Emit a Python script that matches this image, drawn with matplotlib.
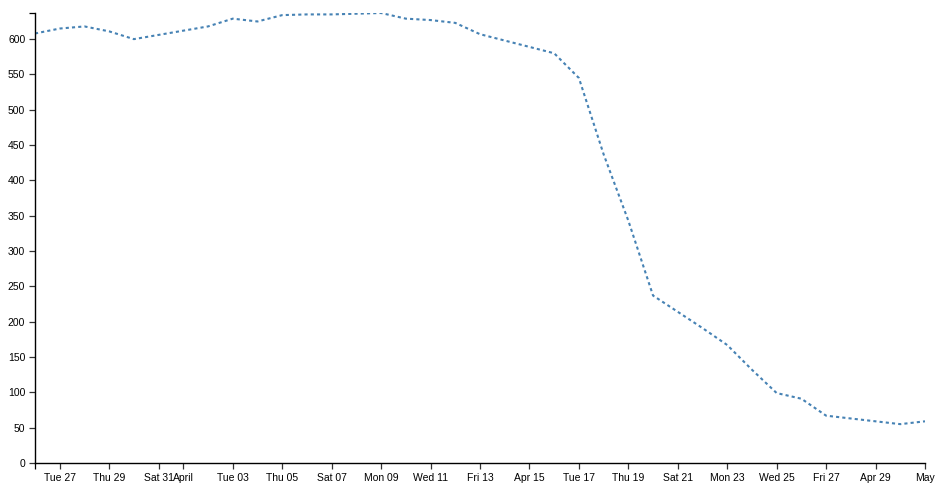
import numpy as np
import pandas as pd
import matplotlib
matplotlib.use("Agg")
import matplotlib.pyplot as plt
import matplotlib.dates as mdates

# daily values, Mar 26 - May 1 2018
start_date = "2018-03-26"
values = [608, 615, 618, 611, 600, 606, 612, 618, 629, 625,
          634, 635, 635, 636, 637, 629, 627, 623, 607, 598,
          589, 580, 545, 437, 343, 237, 214, 191, 167, 132,
          99, 91, 67, 63, 59, 55, 59]

tick_dates = ["2018-03-27", "2018-03-29", "2018-03-31", "2018-04-01",
              "2018-04-03", "2018-04-05", "2018-04-07", "2018-04-09",
              "2018-04-11", "2018-04-13", "2018-04-15", "2018-04-17",
              "2018-04-19", "2018-04-21", "2018-04-23", "2018-04-25",
              "2018-04-27", "2018-04-29", "2018-05-01"]
tick_labels = ["Tue 27", "Thu 29", "Sat 31", "April", "Tue 03", "Thu 05",
               "Sat 07", "Mon 09", "Wed 11", "Fri 13", "Apr 15", "Tue 17",
               "Thu 19", "Sat 21", "Mon 23", "Wed 25", "Fri 27", "Apr 29", "May"]
y_ticks = list(range(0, 601, 50))

dates = pd.date_range(start_date, periods=len(values), freq="D")

plt.rcParams['font.family'] = ['Liberation Sans', 'DejaVu Sans']
plt.rcParams['lines.scale_dashes'] = False

fig = plt.figure(figsize=(9.46, 4.94), dpi=100)
ax = fig.add_axes([35/946, 31/494, 890/946, 450/494])

ax.plot(dates, values, color='#4682b4', linewidth=1.5,
        dashes=(2.25, 2.25), dash_capstyle='butt')

ax.set_xlim(dates[0], dates[-1])
ax.set_ylim(0, max(values))

ax.set_xticks(pd.to_datetime(tick_dates))
ax.set_xticklabels(tick_labels)
ax.set_xticks([dates[0]], minor=True)
ax.set_yticks(y_ticks)
ax.set_yticks([max(values)], minor=True)

for side in ['top', 'right']:
    ax.spines[side].set_visible(False)
for side in ['left', 'bottom']:
    ax.spines[side].set_color('black')
    ax.spines[side].set_linewidth(1.0)

ax.tick_params(which='both', length=4.5, width=0.9, color='#333333',
               labelsize=7.5, labelcolor='black', pad=2.5)
ax.tick_params(which='minor', color='black')

fig.savefig("out.png", dpi=100)
